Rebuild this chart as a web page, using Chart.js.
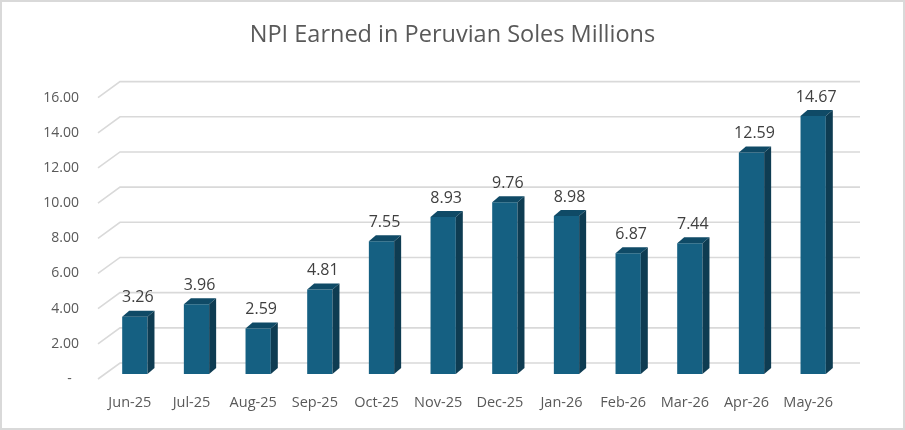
<!DOCTYPE html>
<html>
<head>
<meta charset="utf-8">
<script src="https://cdn.jsdelivr.net/npm/chart.js@4.4.1/dist/chart.umd.min.js"></script>
<style>
  html, body { margin: 0; padding: 0; background: #fff; }
  #wrap { width: 905px; height: 430px; }
</style>
</head>
<body>
<div id="wrap"><canvas id="npi-chart" width="905" height="430"></canvas></div>
<script>
const months = ['Jun-25', 'Jul-25', 'Aug-25', 'Sep-25', 'Oct-25', 'Nov-25',
                'Dec-25', 'Jan-26', 'Feb-26', 'Mar-26', 'Apr-26', 'May-26'];
const npiValues = [3.26, 3.96, 2.59, 4.81, 7.55, 8.93, 9.76, 8.98, 6.87, 7.44, 12.59, 14.67];
const yTicks = [0, 2, 4, 6, 8, 10, 12, 14, 16];

const FONT = '"Open Sans", "Noto Sans", sans-serif';
// depth offsets for the fake 3d look
const wallDx = 21, wallDy = -16;
const barDx = 5, barDy = -5;
const sideDx = 7, sideDy = -6;

const threeD = {
    id: 'threeD',
    beforeDatasetsDraw(chart) {
        const ctx = chart.ctx;
        const area = chart.chartArea;
        const y = chart.scales.y;
        ctx.save();
        ctx.strokeStyle = '#d9d9d9';
        ctx.lineWidth = 1.6;
        yTicks.forEach(v => {
            const py = y.getPixelForValue(v);
            ctx.beginPath();
            ctx.moveTo(area.left - 1, py);
            ctx.lineTo(area.left + wallDx, py + wallDy);
            ctx.lineTo(area.right + wallDx, py + wallDy);
            ctx.stroke();
        });
        ctx.restore();
        ctx.save();
        ctx.translate(barDx, barDy);
    },
    afterDatasetsDraw(chart) {
        const ctx = chart.ctx;
        const meta = chart.getDatasetMeta(0);
        meta.data.forEach((bar, i) => {
            const w = bar.width;
            const l = bar.x - w / 2, r = bar.x + w / 2;
            // top face
            ctx.fillStyle = '#0f4a66';
            ctx.beginPath();
            ctx.moveTo(l, bar.y);
            ctx.lineTo(l + sideDx, bar.y + sideDy);
            ctx.lineTo(r + sideDx, bar.y + sideDy);
            ctx.lineTo(r, bar.y);
            ctx.closePath();
            ctx.fill();
            // side face
            ctx.fillStyle = '#0e3c52';
            ctx.beginPath();
            ctx.moveTo(r, bar.y);
            ctx.lineTo(r + sideDx, bar.y + sideDy);
            ctx.lineTo(r + sideDx, bar.base + sideDy);
            ctx.lineTo(r, bar.base);
            ctx.closePath();
            ctx.fill();
            // value label
            ctx.fillStyle = '#404040';
            ctx.font = '16px ' + FONT;
            ctx.textAlign = 'center';
            ctx.textBaseline = 'middle';
            ctx.fillText(npiValues[i].toFixed(2), bar.x + 3, bar.y - 19);
        });
        ctx.restore();
    },
    afterDraw(chart) {
        const ctx = chart.ctx;
        ctx.save();
        ctx.strokeStyle = '#d9d9d9';
        ctx.lineWidth = 2;
        ctx.strokeRect(1, 1, chart.width - 2, chart.height - 2);
        ctx.restore();
    }
};

new Chart(document.getElementById('npi-chart'), {
    type: 'bar',
    data: {
        labels: months,
        datasets: [{
            label: 'NPI',
            data: npiValues,
            backgroundColor: '#156082',
            borderWidth: 0,
            categoryPercentage: 1,
            barPercentage: 0.41,
            clip: false
        }]
    },
    options: {
        responsive: false,
        animation: false,
        layout: { padding: 0 },
        plugins: {
            legend: { display: false },
            tooltip: { enabled: false },
            title: {
                display: true,
                text: 'NPI Earned in Peruvian Soles Millions',
                color: '#595959',
                font: { family: FONT, size: 23.5, weight: 'normal' },
                padding: { top: 21, bottom: 48.4 }
            }
        },
        scales: {
            x: {
                grid: { display: false, drawTicks: false },
                border: { display: false },
                ticks: { color: '#595959', font: { family: FONT, size: 14.5 }, padding: 15, maxRotation: 0 },
                afterFit(scale) { scale.height = 51; }
            },
            y: {
                min: 0,
                max: 16,
                afterBuildTicks(scale) { scale.ticks = yTicks.map(v => ({ value: v })); },
                grid: { display: false, drawTicks: false },
                border: { display: false },
                ticks: {
                    color: '#595959',
                    font: { family: FONT, size: 14 },
                    padding: 20,
                    callback: v => v === 0 ? '-  ' : v.toFixed(2)
                },
                afterFit(scale) { scale.width = 99; }
            },
            // empty right axis, only reserves room for the back wall
            yRight: {
                position: 'right',
                grid: { display: false, drawTicks: false },
                border: { display: false },
                ticks: { display: false },
                afterFit(scale) { scale.width = 66; }
            }
        }
    },
    plugins: [threeD]
});
</script>
</body>
</html>
